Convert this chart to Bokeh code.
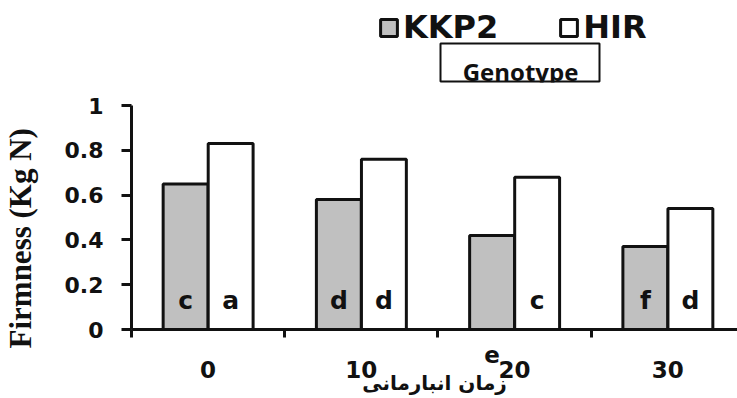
from bokeh.plotting import figure
from bokeh.models import (Range1d, FixedTicker, NumeralTickFormatter, Label, Title,
                          Legend, LegendItem, ColumnDataSource, BoxAnnotation)
from bokeh.transform import dodge
from bokeh.core.properties import value
from bokeh.embed import file_html
from bokeh.resources import INLINE

# ---- data ----
categories = ["0", "10", "20", "30"]
series_names = ["KKP2", "HIR"]
kkp2 = [0.65, 0.58, 0.42, 0.37]
hir = [0.83, 0.76, 0.68, 0.54]
kkp2_letters = ["c", "d", "e", "f"]
hir_letters = ["a", "d", "c", "d"]
kkp2_letter_below = [False, False, True, False]
y_ticks = [0, 0.2, 0.4, 0.6, 0.8, 1]
x_title = "زمان انبارمانی"
y_title = "Firmness (Kg N)"
legend_title = "Genotype"

# ---- layout ----
W, H = 737, 398
LEFT, BOTTOM = 130, 69
CAT_PX = 153.5
Y_PX = 224.0
frame_h = H - BOTTOM              # frame spans from canvas top to x axis
x_end = (W - LEFT) / CAT_PX
y_end = frame_h / Y_PX

BW = 0.293
OFF = 0.147

xpos = [i + 0.5 for i in range(len(categories))]
src = ColumnDataSource(dict(x=xpos, kkp2=kkp2, hir=hir, hl=hir_letters))
in_idx = [i for i, b in enumerate(kkp2_letter_below) if not b]
src_kin = ColumnDataSource(dict(x=[xpos[i] for i in in_idx],
                                t=[kkp2_letters[i] for i in in_idx]))

p = figure(width=W, height=H, output_backend="svg", toolbar_location=None,
           x_range=Range1d(0, x_end), y_range=Range1d(0, y_end),
           min_border_left=LEFT, min_border_right=0,
           min_border_top=0, min_border_bottom=BOTTOM)
p.outline_line_color = None
p.xgrid.visible = False
p.ygrid.visible = False
p.background_fill_color = "white"
p.border_fill_color = "white"

r1 = p.vbar(x=dodge("x", -OFF, range=p.x_range), top="kkp2", width=BW,
            source=src, fill_color="#c0c0c0", line_color="#111111", line_width=3)
r2 = p.vbar(x=dodge("x", OFF, range=p.x_range), top="hir", width=BW,
            source=src, fill_color="white", line_color="#111111", line_width=3)

letter_kw = dict(text_font=value("DejaVu Sans"), text_font_style="bold",
                 text_font_size="25px", text_align="center",
                 text_baseline="middle", text_color="#111111")
p.text(x=dodge("x", -OFF, range=p.x_range), y=0.13, text="t", source=src_kin, **letter_kw)
p.text(x=dodge("x", OFF, range=p.x_range), y=0.13, text="hl", source=src, **letter_kw)

# ---- x axis (letters that fall below the axis are shown on a first label line) ----
overrides = {x: "\n" + c for x, c in zip(xpos, categories)}
for i, b in enumerate(kkp2_letter_below):
    if b:
        overrides[xpos[i] - OFF] = kkp2_letters[i] + "\n"
xa = p.xaxis[0]
xa.ticker = FixedTicker(ticks=sorted(overrides.keys()),
                        minor_ticks=list(range(len(categories) + 1)))
xa.major_label_overrides = overrides
xa.major_tick_out = 0
xa.major_tick_in = 0
xa.minor_tick_out = 8
xa.minor_tick_in = 0
xa.minor_tick_line_width = 3
xa.minor_tick_line_color = "#111111"
xa.axis_line_width = 3
xa.axis_line_color = "#111111"
xa.major_label_standoff = 4
xa.major_label_text_font = "DejaVu Sans"
xa.major_label_text_font_style = "bold"
xa.major_label_text_font_size = "23px"
xa.major_label_text_line_height = 0.61
xa.major_label_text_color = "#111111"
xa.axis_label = x_title
xa.axis_label_standoff = -15
xa.axis_label_text_font = "DejaVu Sans"
xa.axis_label_text_font_style = "bold"
xa.axis_label_text_font_size = "20px"
xa.axis_label_text_line_height = 0.9
xa.axis_label_text_color = "#111111"

# ---- y axis ----
ya = p.yaxis[0]
ya.bounds = (y_ticks[0], y_ticks[-1])
ya.ticker = FixedTicker(ticks=y_ticks, minor_ticks=[])
ya.formatter = NumeralTickFormatter(format="0.[0]")
ya.major_tick_out = 10
ya.major_tick_in = 0
ya.major_tick_line_width = 3
ya.major_tick_line_color = "#111111"
ya.minor_tick_out = 0
ya.minor_tick_in = 0
ya.axis_line_width = 3
ya.axis_line_color = "#111111"
ya.major_label_standoff = 18
ya.major_label_text_font = "DejaVu Sans"
ya.major_label_text_font_style = "bold"
ya.major_label_text_font_size = "22px"
ya.major_label_text_color = "#111111"
# spacer between the tick labels and the axis title
ya.axis_label = " "
ya.axis_label_text_font_size = "1px"
ya.axis_label_standoff = 20

p.add_layout(Title(text=y_title, align="left", offset=-19, standoff=0,
                   text_font="Liberation Serif", text_font_style="bold",
                   text_font_size="31px", text_color="#111111"), "left")

# ---- legend ----
legend = Legend(items=[LegendItem(label=series_names[0], renderers=[r1]),
                       LegendItem(label=series_names[1], renderers=[r2])],
                orientation="horizontal", location=(377 - LEFT, frame_h - 46),
                label_text_font="DejaVu Sans", label_text_font_style="bold",
                label_text_font_size="32px", label_text_color="#111111",
                glyph_width=21, glyph_height=21, spacing=60, padding=0, margin=0,
                label_standoff=4, border_line_color=None, background_fill_alpha=0)
p.add_layout(legend)

# ---- "Genotype" box (text clipped by its lower edge as in the source) ----
p.add_layout(Label(x=519 - LEFT, y=frame_h - 71, x_units="screen", y_units="screen",
                   text=legend_title, text_align="center", text_baseline="middle",
                   text_font="Open Sans", text_font_style="bold", text_font_size="24px",
                   text_color="#111111"))
p.add_layout(BoxAnnotation(left=438 - LEFT, right=599 - LEFT,
                           top=frame_h - 82, bottom=frame_h - 96,
                           left_units="screen", right_units="screen",
                           top_units="screen", bottom_units="screen",
                           fill_color="white", fill_alpha=1, line_color=None))
p.add_layout(BoxAnnotation(left=439 - LEFT, right=598 - LEFT,
                           top=frame_h - 43, bottom=frame_h - 81,
                           left_units="screen", right_units="screen",
                           top_units="screen", bottom_units="screen",
                           fill_alpha=0, line_color="#111111", line_width=2,
                           line_alpha=1))

open("out.html", "w").write(file_html(p, INLINE))
